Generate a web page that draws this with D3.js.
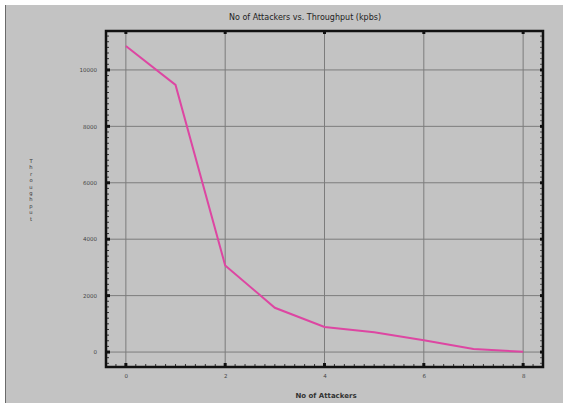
<!DOCTYPE html>
<html>
<head>
<meta charset="utf-8">
<script src="https://cdn.jsdelivr.net/npm/d3@7"></script>
<style>
  body { margin: 0; background: #fff; }
  text { font-family: "DejaVu Sans", sans-serif; }
</style>
</head>
<body>
<div id="chart"></div>
<script>
// data
var attackers = [0, 1, 2, 3, 4, 5, 6, 7, 8];
var throughput = [10850, 9470, 3070, 1570, 890, 700, 420, 110, 10];
var xTicks = [0, 2, 4, 6, 8];
var yTicks = [0, 2000, 4000, 6000, 8000, 10000];

var W = 563, H = 403;
var margin = { top: 31, right: 20, bottom: 36, left: 106 };
var width = W - margin.left - margin.right;
var height = H - margin.top - margin.bottom;

var svg = d3.select("#chart").append("svg")
    .attr("width", W)
    .attr("height", H);

// window background
svg.append("rect")
    .attr("x", 5).attr("y", 5)
    .attr("width", W - 5).attr("height", H - 5)
    .attr("fill", "#c3c3c3");
svg.append("line")
    .attr("x1", 5.5).attr("x2", 5.5).attr("y1", 5).attr("y2", H)
    .attr("stroke", "#6a6a6a");

svg.append("text")
    .attr("x", 305).attr("y", 20)
    .attr("text-anchor", "middle")
    .attr("font-size", "8px")
    .attr("fill", "#222")
    .text("No of Attackers vs. Throughput (kpbs)");

var g = svg.append("g")
    .attr("transform", "translate(" + margin.left + "," + margin.top + ")");

var x = d3.scaleLinear().domain([-0.4, 8.4]).range([0, width]);
var y = d3.scaleLinear().domain([-530, 11380]).range([height, 0]);

// grid
g.append("g")
    .selectAll("line").data(xTicks).enter().append("line")
    .attr("x1", function (d) { return x(d); })
    .attr("x2", function (d) { return x(d); })
    .attr("y1", 0).attr("y2", height)
    .attr("stroke", "#7c7c7c").attr("stroke-width", 1);
g.append("g")
    .selectAll("line").data(yTicks).enter().append("line")
    .attr("y1", function (d) { return y(d); })
    .attr("y2", function (d) { return y(d); })
    .attr("x1", 0).attr("x2", width)
    .attr("stroke", "#7c7c7c").attr("stroke-width", 1);

// minor ticks on the frame (inward)
var xMinor = d3.range(-0.4, 8.41, 0.2);
var yMinor = d3.range(-400, 11380, 200);
g.append("g").selectAll("line").data(xMinor).enter().append("line")
    .attr("x1", function (d) { return x(d); })
    .attr("x2", function (d) { return x(d); })
    .attr("y1", height).attr("y2", height - 3)
    .attr("stroke", "#333");
g.append("g").selectAll("line").data(yMinor).enter().append("line")
    .attr("y1", function (d) { return y(d); })
    .attr("y2", function (d) { return y(d); })
    .attr("x1", 0).attr("x2", 3)
    .attr("stroke", "#333");
g.append("g").selectAll("line").data(yMinor).enter().append("line")
    .attr("y1", function (d) { return y(d); })
    .attr("y2", function (d) { return y(d); })
    .attr("x1", width).attr("x2", width - 3)
    .attr("stroke", "#555");

// major tick marks: bigger dots on frame
g.append("g").selectAll("rect").data(xTicks).enter().append("rect")
    .attr("x", function (d) { return x(d) - 1.5; })
    .attr("y", height - 4).attr("width", 3).attr("height", 4)
    .attr("fill", "#111");
g.append("g").selectAll("rect").data(xTicks).enter().append("rect")
    .attr("x", function (d) { return x(d) - 1.5; })
    .attr("y", 0).attr("width", 3).attr("height", 3)
    .attr("fill", "#111");
g.append("g").selectAll("rect").data(yTicks).enter().append("rect")
    .attr("y", function (d) { return y(d) - 1.5; })
    .attr("x", 0).attr("width", 4).attr("height", 3)
    .attr("fill", "#111");
g.append("g").selectAll("rect").data(yTicks).enter().append("rect")
    .attr("y", function (d) { return y(d) - 1.5; })
    .attr("x", width - 3).attr("width", 3).attr("height", 3)
    .attr("fill", "#111");

// frame
g.append("rect")
    .attr("x", 0).attr("y", 0)
    .attr("width", width).attr("height", height)
    .attr("fill", "none")
    .attr("stroke", "#111").attr("stroke-width", 2.5);

// axis labels via d3 axes, lines hidden
var xAxis = g.append("g")
    .attr("transform", "translate(0," + height + ")")
    .call(d3.axisBottom(x).tickValues(xTicks).tickSize(0).tickPadding(7));
var yAxis = g.append("g")
    .call(d3.axisLeft(y).tickValues(yTicks).tickSize(0).tickPadding(9).tickFormat(d3.format("d")));
[xAxis, yAxis].forEach(function (a) {
    a.select(".domain").remove();
    a.selectAll("text")
        .attr("font-family", "DejaVu Sans, sans-serif")
        .attr("font-size", "5.5px")
        .attr("fill", "#444");
});

// series line
var line = d3.line()
    .x(function (d, i) { return x(attackers[i]); })
    .y(function (d) { return y(d); });
g.append("path")
    .datum(throughput)
    .attr("d", line)
    .attr("fill", "none")
    .attr("stroke", "#dd46a2")
    .attr("stroke-width", 2);

// axis titles
svg.append("text")
    .attr("x", 326).attr("y", 398)
    .attr("text-anchor", "middle")
    .attr("font-size", "7px")
    .attr("font-weight", "bold")
    .attr("fill", "#333")
    .text("No of Attackers");

// vertical label drawn as stacked letters, one text per letter
var letters = "Throughput".split("");
svg.append("g").selectAll("text").data(letters).enter().append("text")
    .attr("x", 31)
    .attr("y", function (d, i) { return 163 + i * 6.4; })
    .attr("text-anchor", "middle")
    .attr("font-size", "5.2px")
    .attr("fill", "#333")
    .text(function (d) { return d; });
</script>
</body>
</html>
